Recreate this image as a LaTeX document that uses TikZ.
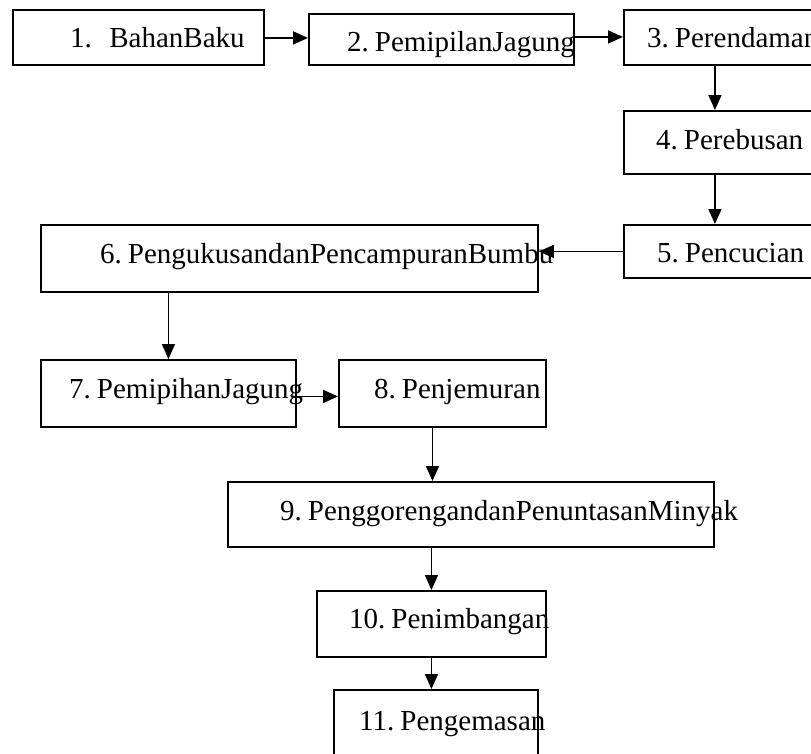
\documentclass[tikz,border=0pt]{standalone}
\usepackage{fontspec}
\setmainfont{Liberation Serif}[WordSpace=0.5]
\usetikzlibrary{arrows.meta, positioning, calc}

\begin{document}
\begin{tikzpicture}[
    x=1pt, y=-1pt,
    procbox/.style={rectangle, draw, line width=1.9pt, anchor=north west, inner sep=0pt},
    steptext/.style={anchor=base west, inner sep=0pt, font=\fontsize{29}{34}\selectfont},
    flow/.style={line width=1.7pt, -{Triangle[length=15pt, width=13pt]}}
]
\useasboundingbox (0,0) rectangle (811,753);

% Top row
\node[procbox, minimum width=251pt, minimum height=55pt] (b1) at (12,9) {};
\node[steptext] (t1) at (70,47) {1.\hspace{0.6em}BahanBaku};

\node[procbox, minimum width=265pt, minimum height=51pt] (b2) at (308,13) {};
\node[steptext] (t2) at (347,51) {2. PemipilanJagung};

\node[procbox, minimum width=188pt, minimum height=55pt] (b3) at (623,9) {};
\node[steptext] (t3) at (647,47) {3. Perendaman};

% Right column
\node[procbox, minimum width=188pt, minimum height=63pt] (b4) at (623,110) {};
\node[steptext] (t4) at (656,149) {4. Perebusan};

\node[procbox, minimum width=188pt, minimum height=53pt] (b5) at (623,224) {};
\node[steptext] (t5) at (657,262) {5. Pencucian};

% Back to the left
\node[procbox, minimum width=497pt, minimum height=67pt] (b6) at (40,224) {};
\node[steptext] (t6) at (100,263) {6. PengukusandanPencampuranBumbu};

\node[procbox, minimum width=255pt, minimum height=67pt] (b7) at (40,359) {};
\node[steptext] (t7) at (69,398) {7. PemipihanJagung};

\node[procbox, minimum width=207pt, minimum height=67pt] (b8) at (338,359) {};
\node[steptext] (t8) at (374,398) {8. Penjemuran};

% Bottom column
\node[procbox, minimum width=486pt, minimum height=65pt] (b9) at (227,481) {};
\node[steptext] (t9) at (280,520) {9. PenggorengandanPenuntasanMinyak};

\node[procbox, minimum width=229pt, minimum height=66pt] (b10) at (316,590) {};
\node[steptext] (t10) at (349,628) {10. Penimbangan};

\node[procbox, minimum width=204pt, minimum height=80pt] (b11) at (333,689) {};
\node[steptext] (t11) at (359,730) {11. Pengemasan};

% Flow arrows
\draw[flow] ([yshift=-0.5pt]b1.east) -- ([yshift=-0.5pt]b1.east -| b2.west);
\draw[flow] ([yshift=2.5pt]b2.east) -- ([yshift=2.5pt]b2.east -| b3.west);
\draw[flow] ([xshift=-3pt]b3.south) -- ([xshift=-3pt]b4.north);
\draw[flow] ([xshift=-3pt]b4.south) -- ([xshift=-3pt]b5.north);
\draw[flow] (b5.west) -- (b5.west -| b6.east);
\draw[flow] (b6.south -| b7.north) -- (b7.north);
\draw[flow] ([yshift=-3pt]b7.east) -- ([yshift=-3pt]b7.east -| b8.west);
\coordinate (c8) at ([xshift=-10pt]b8.south);
\draw[flow] (c8) -- (c8 |- b9.north);
\draw[flow] (b9.south -| b10.north) -- (b10.north);
\draw[flow] (b10.south) -- (b10.south |- b11.north);

\end{tikzpicture}
\end{document}
